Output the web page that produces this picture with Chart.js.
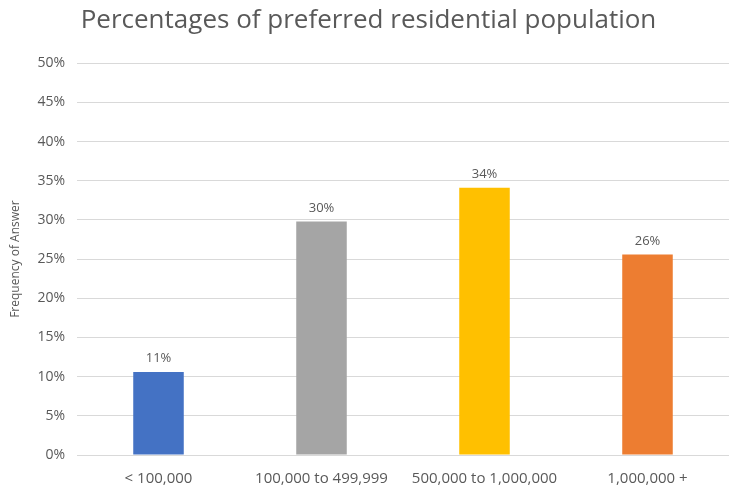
<!DOCTYPE html>
<html>
<head>
<meta charset="utf-8">
<script src="https://cdn.jsdelivr.net/npm/chart.js@4"></script>
<style>
  html, body { margin: 0; padding: 0; background: #ffffff; }
  #wrap { width: 729px; height: 487px; }
</style>
</head>
<body>
<div id="wrap"><canvas id="myChart" width="729" height="487"></canvas></div>
<script>
// categories and values
const categories = ["< 100,000", "100,000 to 499,999", "500,000 to 1,000,000", "1,000,000 +"];
const shares = [10.6, 29.8, 34.1, 25.6];
const barColors = ["#4472c4", "#a5a5a5", "#ffc000", "#ed7d31"];
const yTicks = [0, 5, 10, 15, 20, 25, 30, 35, 40, 45, 50];

const FONT = "'Open Sans', 'Liberation Sans', sans-serif";
const GREY_TEXT = "#595959";

// draws the rounded percentage above each bar
const barLabels = {
  id: 'barLabels',
  afterDatasetsDraw(chart) {
    const ctx = chart.ctx;
    const meta = chart.getDatasetMeta(0);
    ctx.save();
    ctx.font = "13px " + FONT;
    ctx.fillStyle = GREY_TEXT;
    ctx.textAlign = 'center';
    ctx.textBaseline = 'bottom';
    meta.data.forEach(function (bar, i) {
      ctx.fillText(Math.round(shares[i]) + "%", bar.x, bar.y - 7);
    });
    ctx.restore();
  }
};

const data = {
  labels: categories,
  datasets: [{
    label: 'Frequency of Answer',
    data: shares,
    backgroundColor: barColors,
    borderWidth: 0,
    categoryPercentage: 1.0,
    barPercentage: 0.31
  }]
};

const config = {
  type: 'bar',
  data: data,
  options: {
    responsive: false,
    animation: false,
    layout: { padding: { left: 8, right: 0, top: 4, bottom: 0 } },
    plugins: {
      legend: { display: false },
      tooltip: { enabled: false },
      title: {
        display: true,
        text: 'Percentages of preferred residential population',
        color: GREY_TEXT,
        font: { family: FONT, size: 26, weight: 'normal' },
        padding: { top: 1, bottom: 27 }
      }
    },
    scales: {
      x: {
        grid: { display: false, drawTicks: false },
        border: { display: true, color: '#d9d9d9', width: 1 },
        ticks: { color: GREY_TEXT, font: { family: FONT, size: 15 }, padding: 15, maxRotation: 0 },
        afterFit(scale) { scale.height = 32; }
      },
      y: {
        min: 0,
        max: 50,
        afterBuildTicks(scale) { scale.ticks = yTicks.map(v => ({ value: v })); },
        grid: { color: '#d9d9d9', drawTicks: false },
        border: { display: false },
        ticks: {
          color: GREY_TEXT,
          font: { family: FONT, size: 14 },
          padding: 12,
          callback: v => v + '%'
        },
        title: {
          display: true,
          text: 'Frequency of Answer',
          color: GREY_TEXT,
          font: { family: FONT, size: 12 },
          padding: { top: 0, bottom: 0 }
        },
        afterFit(scale) { scale.width = 69; }
      }
    }
  },
  plugins: [barLabels]
};

const myChart = new Chart(document.getElementById('myChart'), config);
</script>
</body>
</html>
